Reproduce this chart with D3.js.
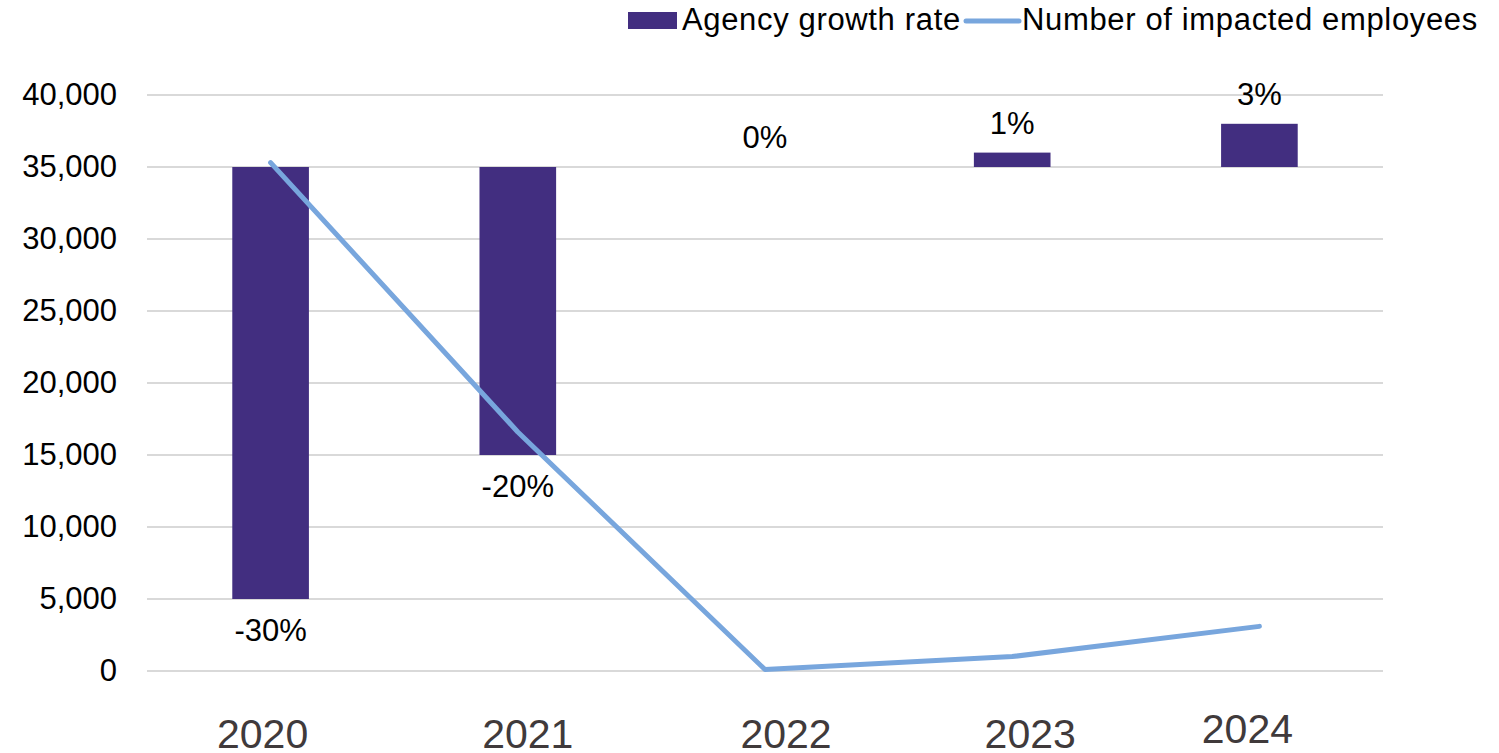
<!DOCTYPE html>
<html>
<head>
<meta charset="utf-8">
<script src="https://cdn.jsdelivr.net/npm/d3@7"></script>
<style>
  html, body { margin: 0; padding: 0; background: #ffffff; }
  svg { display: block; font-family: "Liberation Sans", Arial, Helvetica, sans-serif; }
</style>
</head>
<body>
<svg id="chart" width="1499" height="753"></svg>
<script>
// Years on the category axis
const years = ["2020", "2021", "2022", "2023", "2024"];
// Agency growth rate per year (fraction)
const growthRate = [-0.30, -0.20, 0.00, 0.01, 0.03];
// Bar value labels
const growthLabels = ["-30%", "-20%", "0%", "1%", "3%"];
// Number of impacted employees per year
const impactedEmployees = [35300, 16600, 100, 1000, 3100];
// Value-axis ticks
const yTicks = [0, 5000, 10000, 15000, 20000, 25000, 30000, 35000, 40000];
// Legend entries
const legendNames = ["Agency growth rate", "Number of impacted employees"];

// Growth bars hang from the 35,000 line, 1% = 1,000 on the value axis
const barBase = 35000;
const barUnit = 100000;

const W = 1499, H = 753;
const margin = { left: 147, right: 116, top: 95, bottom: 82 };
const barColor = "#422e80";
const lineColor = "#78a6dd";

const svg = d3.select("#chart");

const x = d3.scaleBand()
  .domain(years)
  .range([margin.left, W - margin.right])
  .padding(0);

const y = d3.scaleLinear()
  .domain([0, 40000])
  .range([H - margin.bottom, margin.top]);

const cx = d => x(d) + x.bandwidth() / 2;
const barW = x.bandwidth() * 0.31;

// Horizontal gridlines
svg.append("g")
  .selectAll("line")
  .data(yTicks)
  .join("line")
  .attr("x1", margin.left)
  .attr("x2", W - margin.right)
  .attr("y1", d => y(d))
  .attr("y2", d => y(d))
  .attr("stroke", "#d9d9d9")
  .attr("stroke-width", 2);

// Value axis labels
const yAxis = d3.axisLeft(y)
  .tickValues(yTicks)
  .tickFormat(d3.format(","))
  .tickSize(0)
  .tickPadding(30);
const yg = svg.append("g")
  .attr("transform", `translate(${margin.left},0)`)
  .call(yAxis);
yg.select(".domain").remove();
yg.selectAll("text")
  .attr("font-size", 31)
  .attr("font-family", "Liberation Sans, Arial, sans-serif")
  .attr("fill", "#000");

// Year labels along the bottom, with slight hand placement
const yearNudge = { "2020": [-8, 0], "2021": [10, 0], "2022": [21, 0], "2023": [18, 0], "2024": [-12, -5] };
const xAxis = d3.axisBottom(x).tickSize(0).tickPadding(0);
const xg = svg.append("g")
  .attr("transform", `translate(0,${y(0)})`)
  .call(xAxis);
xg.select(".domain").remove();
xg.selectAll("text")
  .attr("font-size", 41)
  .attr("font-family", "Liberation Sans, Arial, sans-serif")
  .attr("fill", "#403a3b")
  .attr("dy", null)
  .attr("y", d => 77 + yearNudge[d][1])
  .attr("x", d => yearNudge[d][0]);

// Growth-rate bars
const rows = years.map((yr, i) => ({ year: yr, rate: growthRate[i], label: growthLabels[i] }));
const barEnd = r => barBase + r.rate * barUnit;

svg.append("g")
  .selectAll("rect")
  .data(rows)
  .join("rect")
  .attr("x", d => cx(d.year) - barW / 2)
  .attr("width", barW)
  .attr("y", d => y(Math.max(barBase, barEnd(d))))
  .attr("height", d => Math.abs(y(barBase) - y(barEnd(d))))
  .attr("fill", barColor);

// Bar value labels: above positive bars, below negative ones
svg.append("g")
  .selectAll("text")
  .data(rows)
  .join("text")
  .attr("x", d => cx(d.year))
  .attr("y", d => d.rate < 0 ? y(barEnd(d)) + 42 : y(barEnd(d)) - 19)
  .attr("text-anchor", "middle")
  .attr("font-size", 31)
  .attr("fill", "#000")
  .text(d => d.label);

// Impacted employees line
const line = d3.line()
  .x(d => cx(d.year))
  .y(d => y(d.value));

svg.append("path")
  .datum(years.map((yr, i) => ({ year: yr, value: impactedEmployees[i] })))
  .attr("d", line)
  .attr("fill", "none")
  .attr("stroke", lineColor)
  .attr("stroke-width", 5)
  .attr("stroke-linecap", "round")
  .attr("stroke-linejoin", "round");

// Legend, top right
const lg = svg.append("g")
  .attr("font-size", 31)
  .attr("letter-spacing", 0.65)
  .attr("fill", "#000");
lg.append("rect")
  .attr("x", 628).attr("y", 12).attr("width", 49).attr("height", 17)
  .attr("fill", barColor);
lg.append("text")
  .attr("x", 682).attr("y", 30)
  .text(legendNames[0]);
lg.append("line")
  .attr("x1", 966).attr("x2", 1019).attr("y1", 21).attr("y2", 21)
  .attr("stroke", lineColor).attr("stroke-width", 5)
  .attr("stroke-linecap", "round");
lg.append("text")
  .attr("x", 1022).attr("y", 30)
  .text(legendNames[1]);
</script>
</body>
</html>
